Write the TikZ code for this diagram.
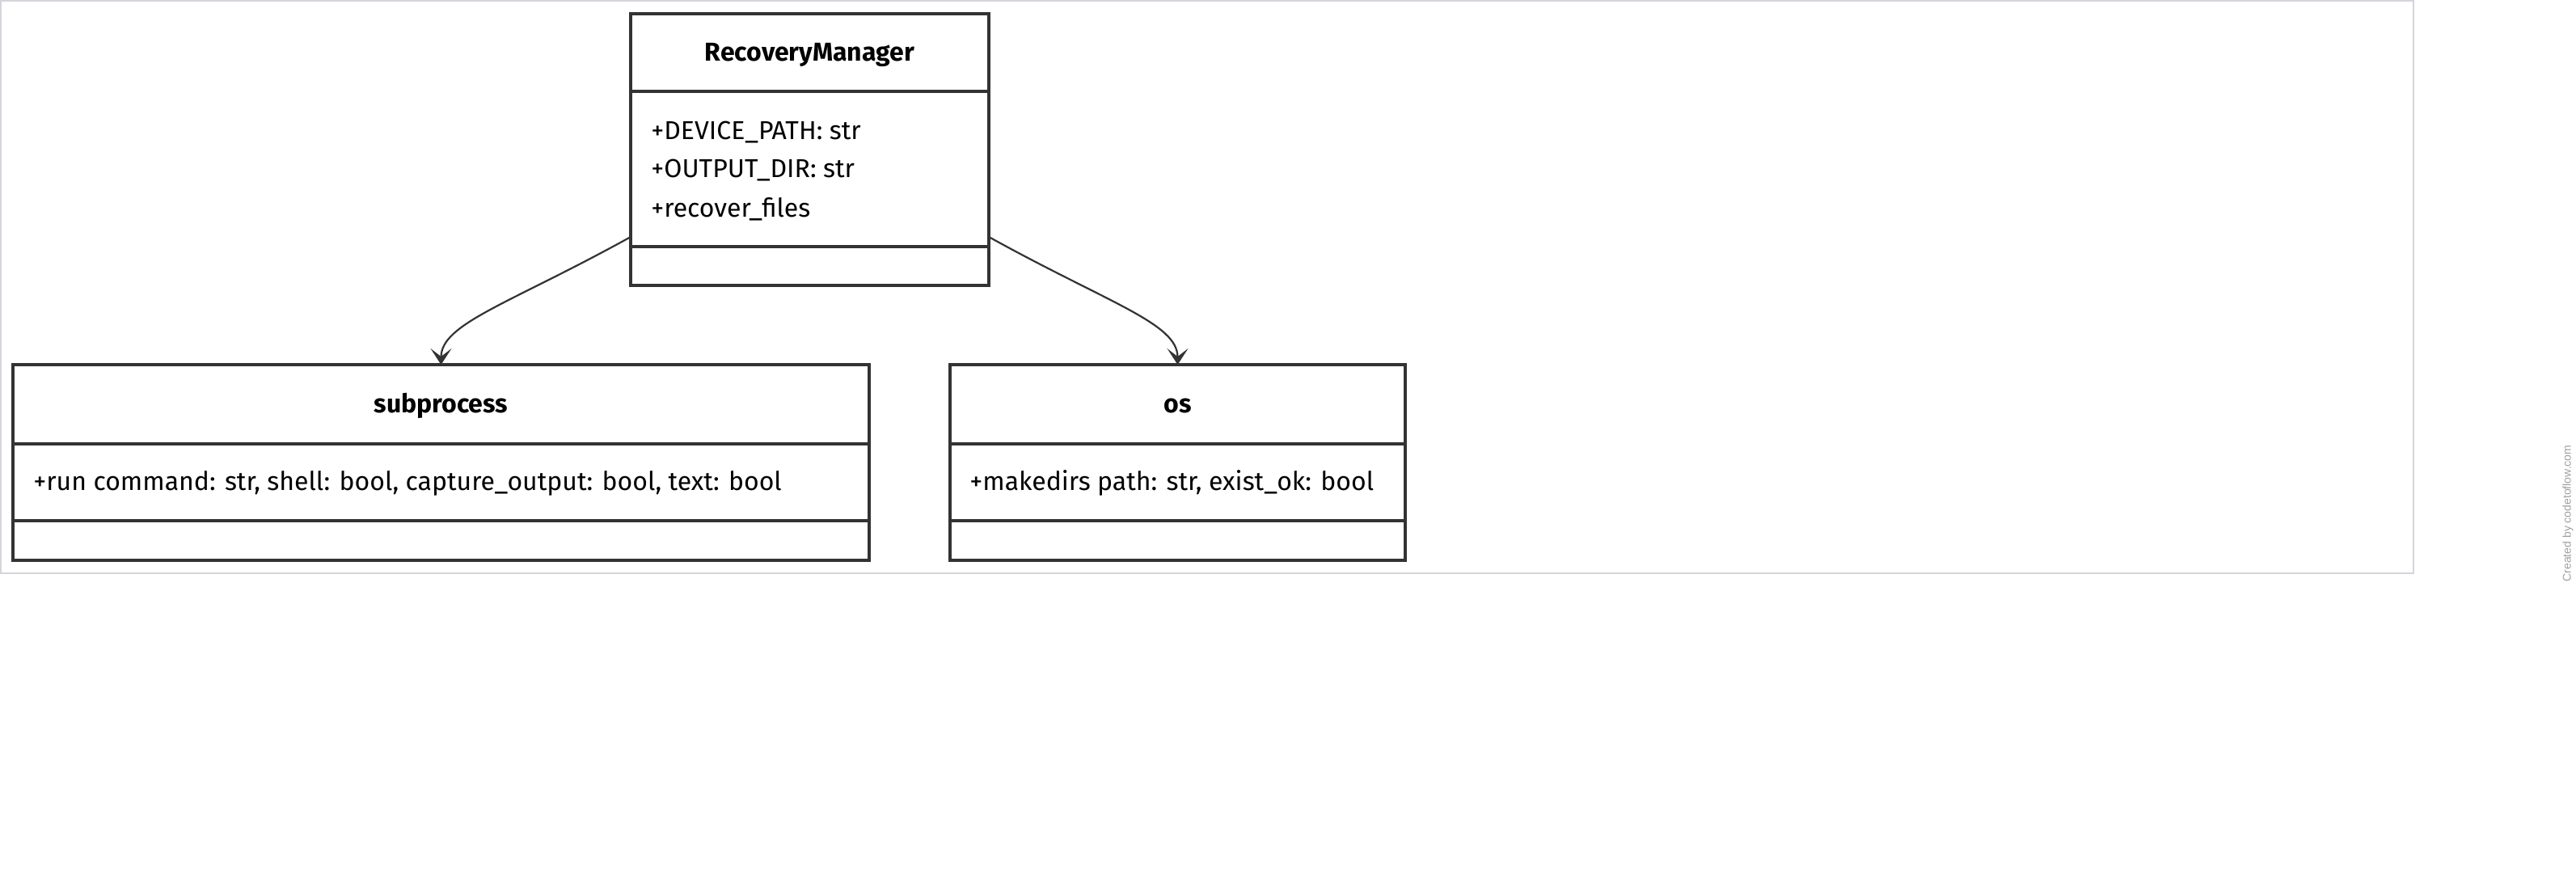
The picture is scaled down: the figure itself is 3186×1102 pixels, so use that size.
\documentclass[tikz,border=0pt]{standalone}
\usepackage{fontspec}
\setmainfont{Fira Sans}
\newfontfamily\wmfont{Liberation Sans}
\usetikzlibrary{arrows.meta}
\definecolor{ink}{HTML}{333333}
\definecolor{framegray}{HTML}{D3D5DB}
\definecolor{wmgray}{HTML}{A0A0A0}
\begin{document}
\begin{tikzpicture}[x=0.5pt,y=-0.5pt,
  classbox/.style={draw=ink, line width=2pt, inner sep=0pt, outer sep=0pt, anchor=north west},
  divider/.style={draw=ink, line width=2pt},
  classtitle/.style={font=\fontsize{16}{18}\selectfont\bfseries, text=black, inner sep=0pt, anchor=base},
  member/.style={font=\fontsize{16}{18}\selectfont, anchor=base west, inner sep=0pt, text=black},
  link/.style={draw=ink, line width=1.1pt, -{Stealth[length=10pt,width=13pt,inset=5pt]}}]
\useasboundingbox (0,0) rectangle (3186,1102);
\fill[white] (0,0) rectangle (3186,1102);
% outer frame
\draw[framegray, line width=1pt] (1,1) rectangle (2985,709);

% RecoveryManager
\node[classbox, minimum width=221.5pt, minimum height=168pt] (rm) at (780,17) {};
\draw[divider] (780,113) -- (1223,113);
\draw[divider] (780,305) -- (1223,305);
\node[classtitle] (rmtitle) at (1001.5,76) {RecoveryManager};
\node[member] (rma) at (805,172) {+DEVICE\_PATH: str};
\node[member] (rmb) at (805,220) {+OUTPUT\_DIR: str};
\node[member] (rmc) at (805,268) {+recover\_files};

% subprocess
\node[classbox, minimum width=529.5pt, minimum height=121pt] (sub) at (16,451) {};
\draw[divider] (16,549) -- (1075,549);
\draw[divider] (16,644) -- (1075,644);
\node[classtitle] (subtitle) at (545.5,510) {subprocess};
\node[member] (suba) at (41,606) {+run command: str, shell: bool, capture\_output: bool, text: bool};

% os
\node[classbox, minimum width=281.5pt, minimum height=121pt] (os) at (1175,451) {};
\draw[divider] (1175,549) -- (1738,549);
\draw[divider] (1175,644) -- (1738,644);
\node[classtitle] (ostitle) at (1456.5,510) {os};
\node[member] (osa) at (1199,606) {+makedirs path: str, exist\_ok: bool};

% dependencies
\draw[link] ([yshift=30pt]rm.south west) .. controls (630,376) and (545.5,400) .. (sub.north);
\draw[link] ([yshift=30pt]rm.south east) .. controls (1373,376) and (1456.5,400) .. (os.north);

% watermark
\node[rotate=90, font=\wmfont\fontsize{7}{8}\selectfont, text=wmgray, inner sep=0pt] (wm) at (3176,635) {Created by codetoflow.com};
\end{tikzpicture}
\end{document}
